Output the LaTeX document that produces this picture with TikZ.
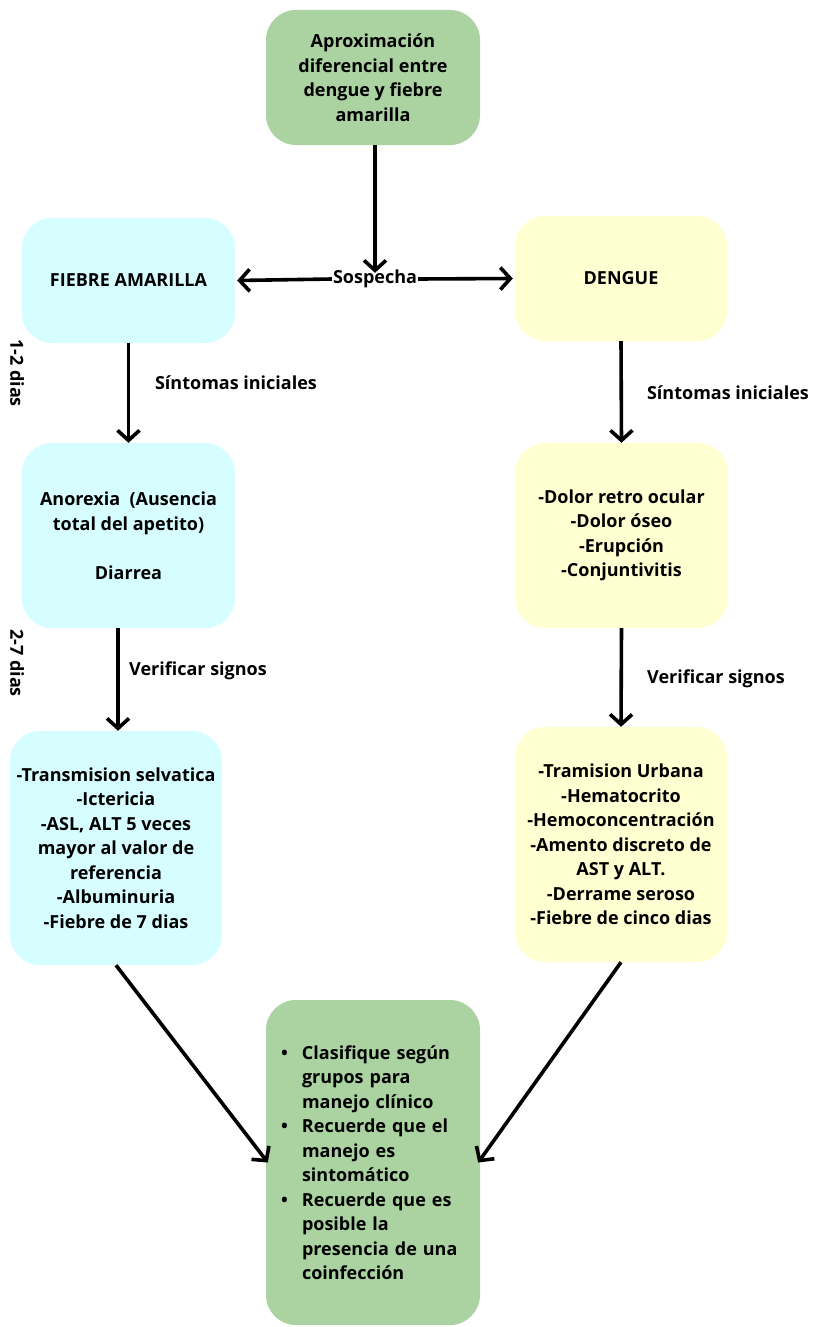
\documentclass[tikz,border=0pt]{standalone}
\usepackage{fontspec}
\setmainfont{Open Sans}
\usetikzlibrary{arrows.meta}
\definecolor{boxgreen}{RGB}{171,211,161}
\definecolor{boxcyan}{RGB}{214,253,255}
\definecolor{boxyellow}{RGB}{255,255,210}
\tikzset{
  card/.style={rounded corners=30pt, draw=none, align=center, inner sep=0pt,
    font=\bfseries\fontsize{18}{24.5}\selectfont},
  lbl/.style={font=\bfseries\fontsize{18}{24.5}\selectfont, inner sep=1pt},
  flow/.style={line width=3.6pt, -{Straight Barb[length=10pt,width=22pt,line width=3.6pt]}}
}
\begin{document}
\begin{tikzpicture}[x=1pt,y=-1pt]
\useasboundingbox (0,0) rectangle (812,1327);

% boxes
\node[card, fill=boxgreen, minimum width=214pt, minimum height=135pt] (top) at (373,77.5)
  {Aproximación\\diferencial entre\\dengue y fiebre\\amarilla};
\node[card, fill=boxcyan, minimum width=213pt, minimum height=125pt] (fa) at (128.5,280.5)
  {FIEBRE AMARILLA};
\node[card, fill=boxyellow, minimum width=212pt, minimum height=125pt] (den) at (621,278.5)
  {DENGUE};
\node[card, fill=boxcyan, minimum width=213pt, minimum height=185pt] (fasin) at (128.5,535.5)
  {Anorexia\ \ (Ausencia\\total del apetito)\\[24.5pt]Diarrea};
\node[card, fill=boxyellow, minimum width=213pt, minimum height=185pt] (densin) at (621.5,535.5)
  {-Dolor retro ocular\\-Dolor óseo\\-Erupción\\-Conjuntivitis};
\node[card, fill=boxcyan, minimum width=212pt, minimum height=234pt] (fasig) at (116,848)
  {-Transmision selvatica\\-Ictericia\\-ASL, ALT 5 veces\\mayor al valor de\\referencia\\-Albuminuria\\-Fiebre de 7 dias};
\node[card, fill=boxyellow, minimum width=212pt, minimum height=235pt] (densig) at (621,844.5)
  {-Tramision Urbana\\-Hematocrito\\-Hemoconcentración\\-Amento discreto de\\AST y ALT.\\-Derrame seroso\\-Fiebre de cinco dias};
\node[card, fill=boxgreen, minimum width=214pt, minimum height=325pt, text width=184pt,
      align=left, inner xsep=15pt] (fin) at (373,1162.5)
  {\makebox[21pt][l]{\textbullet}Clasifique según\\
   \hspace*{21pt}grupos para\\
   \hspace*{21pt}manejo clínico\\
   \makebox[21pt][l]{\textbullet}Recuerde que el\\
   \hspace*{21pt}manejo es\\
   \hspace*{21pt}sintomático\\
   \makebox[21pt][l]{\textbullet}Recuerde que es\\
   \hspace*{21pt}posible la\\
   \hspace*{21pt}presencia de una\\
   \hspace*{21pt}coinfección};

% labels
\node[lbl] (sos) at (375,279) {Sospecha};
\node[lbl] (si1) at (236,383) {Síntomas iniciales};
\node[lbl] (si2) at (728,393) {Síntomas iniciales};
\node[lbl] (vs1) at (198,671) {Verificar signos};
\node[lbl] (vs2) at (716,679) {Verificar signos};
\node[lbl, rotate=-90] (d12) at (17,373) {1-2 dias};
\node[lbl, rotate=-90] (d27) at (17,663) {2-7 dias};

% connectors
\draw[flow] (sos.north |- top.south) -- ([yshift=-4pt]sos.north);
\draw[flow] (sos.west) -- ([xshift=2pt]fa.east);
\draw[flow] (sos.east) -- ([xshift=-2pt]den.west);
\draw[flow] (fa.south) -- (fasin.north);
\draw[flow] (den.south) -- (densin.north);
\draw[flow] (fasin.south -| fasig.north) ++(2pt,0) -- ([xshift=2pt]fasig.north);
\draw[flow] (densin.south) -- (densig.north);
\draw[flow] (fasig.south) -- ([xshift=2pt]fin.west);
\draw[flow] (densig.south) -- ([xshift=-2pt]fin.east);
\end{tikzpicture}
\end{document}
